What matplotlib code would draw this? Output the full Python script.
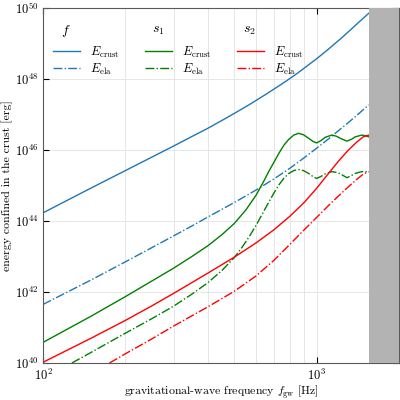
import numpy as np
import matplotlib
matplotlib.use("Agg")
import matplotlib.pyplot as plt
from matplotlib.ticker import NullLocator, NullFormatter, FixedLocator

plt.rcParams['font.family'] = 'serif'
plt.rcParams['font.serif'] = ['cmr10']
plt.rcParams['mathtext.fontset'] = 'cm'
plt.rcParams['axes.formatter.use_mathtext'] = True

# f mode (log10 of energy in erg)
f_crust_freq = [100, 150, 200, 250, 300, 350, 400, 450, 500, 568, 650, 700, 780, 850, 920,
                1000, 1100, 1235, 1350, 1450, 1550]
f_crust_log = [44.23, 44.93, 45.42, 45.80, 46.11, 46.38, 46.61, 46.83, 47.03, 47.28, 47.56,
               47.72, 47.96, 48.16, 48.36, 48.57, 48.83, 49.16, 49.43, 49.65, 49.85]
f_ela_freq = [100, 150, 200, 250, 300, 350, 400, 500, 600, 700, 800, 900, 1000, 1100, 1200,
              1300, 1400, 1550]
f_ela_log = [41.65, 42.34, 42.85, 43.25, 43.58, 43.86, 44.11, 44.52, 44.87, 45.19, 45.49, 45.78,
             46.05, 46.30, 46.54, 46.76, 46.97, 47.27]

# s1 mode
s1_crust_freq = [100, 150, 200, 250, 300, 350, 400, 450, 500, 550, 600, 641, 669, 700, 727, 760,
                 791, 825, 859, 895, 935, 970, 1000, 1040, 1076, 1137, 1180, 1220, 1290, 1340,
                 1383, 1462, 1510, 1550]
s1_crust_log = [40.58, 41.32, 41.87, 42.31, 42.67, 43.00, 43.30, 43.61, 43.93, 44.30, 44.72, 45.12,
                45.40, 45.67, 45.90, 46.14, 46.30, 46.42, 46.47, 46.43, 46.33, 46.24, 46.20, 46.27,
                46.36, 46.42, 46.39, 46.33, 46.25, 46.30, 46.37, 46.42, 46.40, 46.37]
s1_ela_freq = [127.5, 150, 200, 250, 300, 350, 400, 450, 500, 534, 568, 600, 650, 697, 727, 760,
               791, 825, 859, 895, 935, 970, 1000, 1040, 1076, 1137, 1180, 1220, 1290, 1340, 1383,
               1462, 1550]
s1_ela_log = [40.0, 40.3, 40.84, 41.25, 41.60, 41.94, 42.26, 42.60, 42.97, 43.26, 43.57, 43.87,
              44.36, 44.78, 45.01, 45.21, 45.34, 45.42, 45.45, 45.42, 45.34, 45.25, 45.20, 45.26,
              45.33, 45.39, 45.37, 45.33, 45.22, 45.28, 45.34, 45.39, 45.39]

# s2 mode
s2_crust_freq = [100, 150, 200, 250, 300, 400, 500, 600, 700, 800, 900, 1000, 1100, 1200, 1300,
                 1400, 1480, 1550]
s2_crust_log = [40.02, 40.70, 41.20, 41.61, 41.96, 42.53, 42.98, 43.38, 43.76, 44.14, 44.52, 44.92,
                45.32, 45.68, 45.98, 46.22, 46.37, 46.42]
s2_ela_freq = [175, 200, 250, 300, 400, 500, 600, 700, 800, 900, 1000, 1100, 1200, 1300, 1400,
               1480, 1550]
s2_ela_log = [40.0, 40.26, 40.68, 41.04, 41.58, 42.02, 42.45, 42.90, 43.35, 43.75, 44.10, 44.42,
              44.70, 44.95, 45.17, 45.32, 45.39]

gray_band = (1560, 2000)

fig = plt.figure(figsize=(4, 4), dpi=100)
ax = fig.add_axes([0.1075, 0.0925, 0.89, 0.8875])

blue = '#1f77b4'
green = 'green'
red = 'red'

l1, = ax.plot(f_crust_freq, 10**np.array(f_crust_log), color=blue, lw=1, label=r'$E_{\rm crust}$')
l2, = ax.plot(f_ela_freq, 10**np.array(f_ela_log), color=blue, lw=1, ls='-.', label=r'$E_{\rm ela}$')
l3, = ax.plot(s1_crust_freq, 10**np.array(s1_crust_log), color=green, lw=1, label=r'$E_{\rm crust}$')
l4, = ax.plot(s1_ela_freq, 10**np.array(s1_ela_log), color=green, lw=1, ls='-.', label=r'$E_{\rm ela}$')
l5, = ax.plot(s2_crust_freq, 10**np.array(s2_crust_log), color=red, lw=1, label=r'$E_{\rm crust}$')
l6, = ax.plot(s2_ela_freq, 10**np.array(s2_ela_log), color=red, lw=1, ls='-.', label=r'$E_{\rm ela}$')

ax.axvspan(gray_band[0], gray_band[1], color='0.7', lw=0, zorder=3)

ax.set_xscale('log')
ax.set_yscale('log')
ax.set_xlim(100, 2000)
ax.set_ylim(1e40, 1e50)

ax.yaxis.set_major_locator(FixedLocator([1e40, 1e42, 1e44, 1e46, 1e48, 1e50]))
ax.yaxis.set_minor_locator(NullLocator())
ax.xaxis.set_minor_formatter(NullFormatter())

ax.grid(True, which='major', color='#e6e6e6', lw=0.7)
ax.grid(True, which='minor', axis='x', color='#e6e6e6', lw=0.7)
ax.set_axisbelow(True)

ax.tick_params(which='both', direction='in', top=True, right=True, labelsize=9)
ax.tick_params(which='major', length=4)
ax.tick_params(which='minor', length=0)
for s in ax.spines.values():
    s.set_color('0.35')

ax.set_xlabel(r'gravitational-wave frequency $f_{\rm gw}$ [Hz]', fontsize=8.5, labelpad=0)
ax.set_ylabel('energy confined in the crust [erg]', fontsize=8.5, labelpad=1)

leg = ax.legend(handles=[l1, l2, l3, l4, l5, l6], ncol=3, loc='upper left',
                bbox_to_anchor=(-0.004, 0.928), frameon=False, fontsize=9,
                handlelength=2.15, handletextpad=0.8, columnspacing=2.05, labelspacing=0.15)
for i, t in enumerate([r'$f$', r'$s_1$', r'$s_2$']):
    ax.text([0.065, 0.323, 0.579][i], 0.935, t, transform=ax.transAxes,
            ha='center', va='center', fontsize=10)

fig.savefig('out.png', dpi=100)
